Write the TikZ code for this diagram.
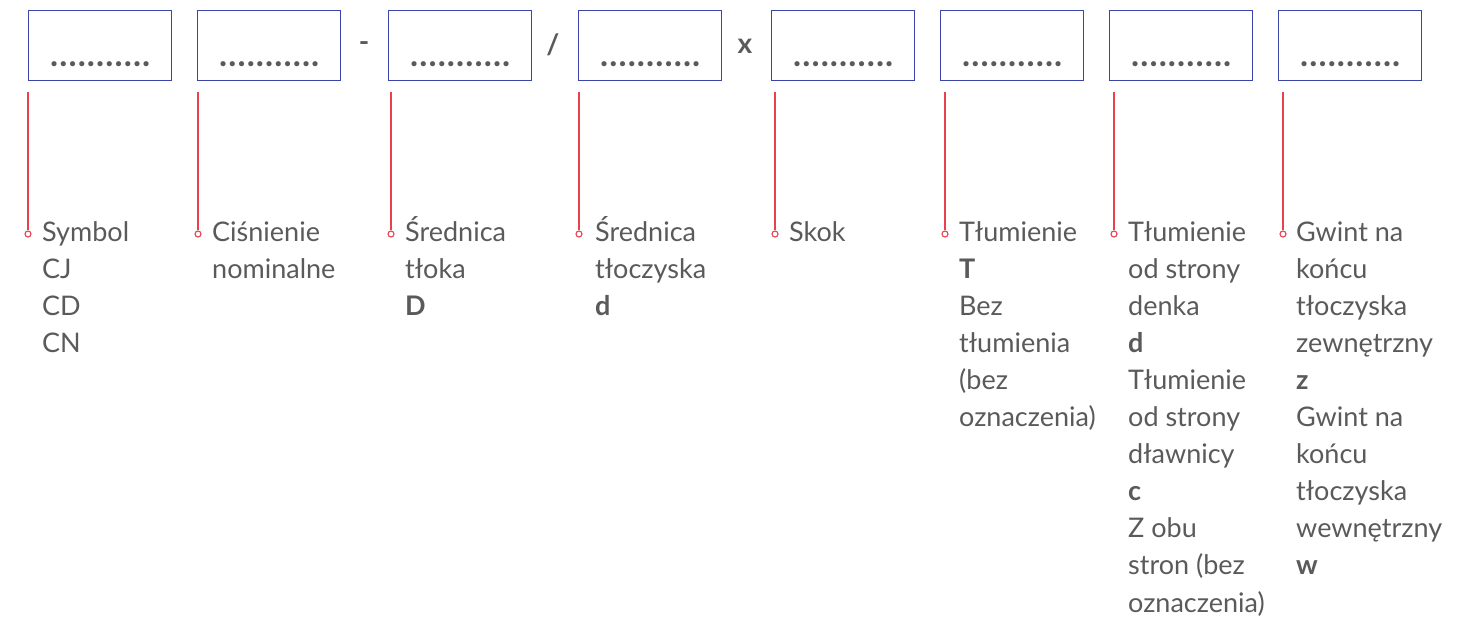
\documentclass[tikz,border=0pt]{standalone}
\usepackage{fontspec}
\setmainfont{Lato}
\definecolor{boxblue}{HTML}{3B45A8}
\definecolor{leadred}{HTML}{E8404F}
\definecolor{txtgray}{HTML}{5A5A5A}
\newcommand{\dotrow}{\makebox[100pt][s]{.\hfill.\hfill.\hfill.\hfill.\hfill.\hfill.\hfill.\hfill.\hfill.\hfill.}}
\newcommand{\desctext}[1]{\begin{tabular}[t]{@{}l@{}}#1\end{tabular}}
\begin{document}
\begin{tikzpicture}[x=1pt,y=-1pt,
  field/.style={draw=boxblue, line width=1.3pt, minimum width=143pt, minimum height=70pt,
    inner sep=0pt, anchor=north west},
  fill in/.style={text=txtgray, font=\fontsize{34}{36}\selectfont\bfseries, inner sep=0pt, anchor=base},
  sep/.style={text=txtgray, font=\fontsize{28}{30}\selectfont\bfseries, inner sep=0pt},
  lead/.style={draw=leadred, line width=1.2pt},
  pin/.style={circle, draw=leadred, line width=1.1pt, fill=white, minimum size=6pt, inner sep=0pt},
  desc/.style={text=txtgray, font=\fontsize{27}{37.1}\selectfont, inner sep=0pt, anchor=base west}]
\useasboundingbox (0,0) rectangle (1465,619);

% code fields with their fill-in dots
\foreach \n/\x in {1/28,2/197,3/388,4/578,5/771,6/940,7/1109,8/1278}{
  \node[field] (b\n) at (\x,10) {};
  \node[fill in] (f\n) at ([yshift=-21pt]b\n.center) {\dotrow};
}

% separators between the fields
\node[sep] (s1) at (364,47) {-};
\node[sep] (s2) at (553,45) {/};
\node[sep] (s3) at (745,46) {x};

% leader lines ending in small open pins
\foreach \n/\x in {1/28,2/198,3/391,4/579,5/775,6/945,7/1114,8/1283}{
  \coordinate (t\n) at (\x,92);
  \node[pin] (p\n) at (\x,234) {};
  \draw[lead] (t\n) -- (p\n.north);
}

% descriptions
\node[desc] (d1) at (42,241) {\desctext{Symbol\\CJ\\CD\\CN}};
\node[desc] (d2) at (212,241) {\desctext{Ciśnienie\\nominalne}};
\node[desc] (d3) at (405,241) {\desctext{Średnica\\tłoka\\\textbf{D}}};
\node[desc] (d4) at (595,241) {\desctext{Średnica\\tłoczyska\\\textbf{d}}};
\node[desc] (d5) at (789,241) {\desctext{Skok}};
\node[desc] (d6) at (959,241) {\desctext{Tłumienie\\\textbf{T}\\Bez\\tłumienia\\(bez\\oznaczenia)}};
\node[desc] (d7) at (1128,241) {\desctext{Tłumienie\\od strony\\denka\\\textbf{d}\\Tłumienie\\od strony\\dławnicy\\\textbf{c}\\Z obu\\stron (bez\\oznaczenia)}};
\node[desc] (d8) at (1296,241) {\desctext{Gwint na\\końcu\\tłoczyska\\zewnętrzny\\\textbf{z}\\Gwint na\\końcu\\tłoczyska\\wewnętrzny\\\textbf{w}}};
\end{tikzpicture}
\end{document}
